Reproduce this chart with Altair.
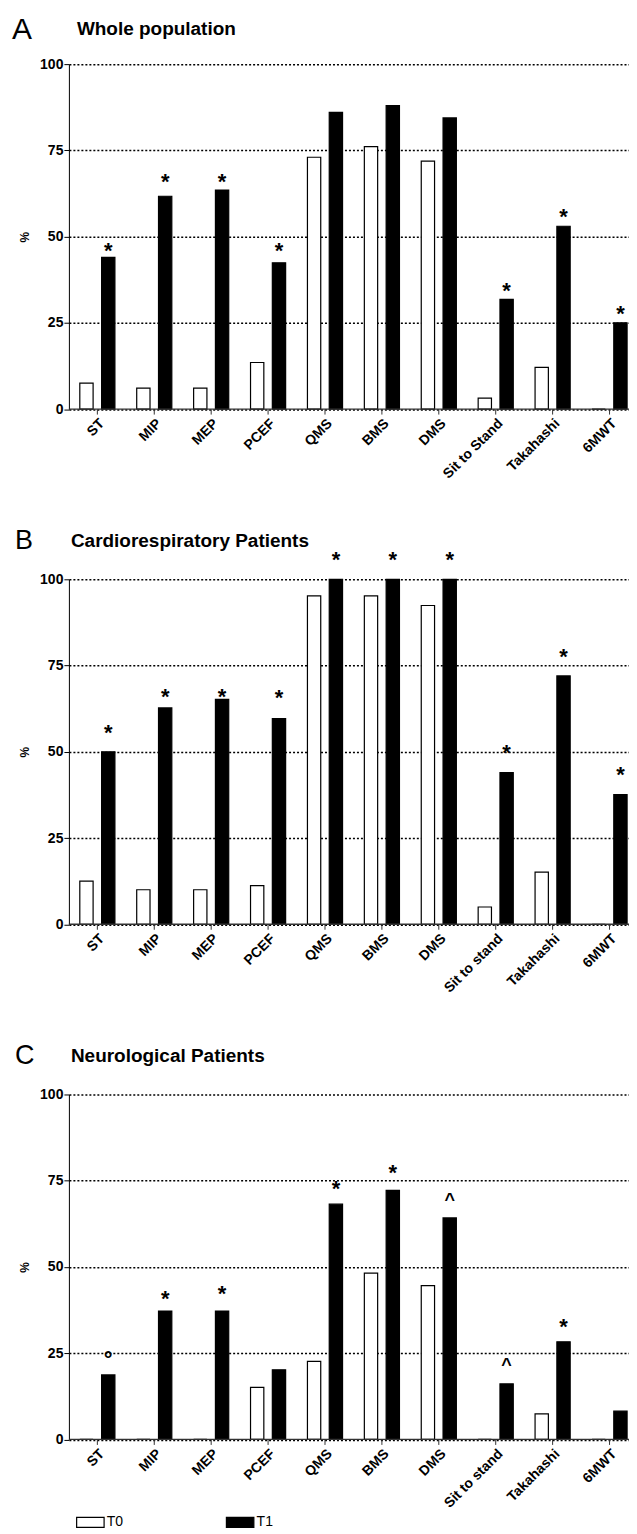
import altair as alt
import pandas as pd

FONT = "Liberation Sans"

# ---------------- data ----------------
categories_A = ["ST", "MIP", "MEP", "PCEF", "QMS", "BMS", "DMS", "Sit to Stand", "Takahashi", "6MWT"]
categories_BC = ["ST", "MIP", "MEP", "PCEF", "QMS", "BMS", "DMS", "Sit to stand", "Takahashi", "6MWT"]
series = ["T0", "T1"]

A_T0 = [7.5, 6.1, 6.1, 13.5, 73.0, 76.1, 71.9, 3.2, 12.1, 0.0]
A_T1 = [44.0, 61.7, 63.5, 42.4, 86.0, 88.0, 84.4, 31.8, 53.0, 25.0]
A_marks = ["*", "*", "*", "*", "", "", "", "*", "*", "*"]
A_mark_y = [47.5, 67.5, 67.5, 47.5, 0, 0, 0, 36.0, 57.3, 29.3]

B_T0 = [12.5, 10.0, 10.0, 11.2, 95.2, 95.2, 92.4, 5.0, 15.1, 0.0]
B_T1 = [50.0, 62.7, 65.2, 59.6, 100.0, 100.0, 100.0, 44.0, 72.0, 37.6]
B_marks = ["*", "*", "*", "*", "*", "*", "*", "*", "*", "*"]
B_mark_y = [57.1, 67.5, 67.5, 67.3, 107.3, 107.3, 107.3, 51.4, 79.3, 45.1]

C_T0 = [0.0, 0.0, 0.0, 15.1, 22.6, 48.2, 44.6, 0.0, 7.4, 0.0]
C_T1 = [18.7, 37.2, 37.2, 20.2, 68.2, 72.2, 64.2, 16.1, 28.3, 8.2]
C_marks = ["°", "*", "*", "", "*", "*", "^", "^", "*", ""]
C_mark_y = [24.9, 42.3, 43.9, 0, 74.3, 79.0, 70.8, 23.1, 34.3, 0]

BOX = "M-1,-0.36L1,-0.36L1,0.36L-1,0.36Z"

LEGEND = alt.Legend(
    title=None, orient="none", legendX=7, legendY=1446, direction="horizontal",
    symbolType=BOX, symbolSize=756, symbolStrokeColor="black", symbolStrokeWidth=1.2,
    labelFont=FONT, labelFontSize=14, labelColor="black", labelOffset=2,
    columnPadding=100, padding=0,
)

W, H = 570, 345.5


def panel(letter, title, cats, t0, t1, marks, mark_y, letter_xy, letter_size, title_xy):
    n = len(cats)
    bars = pd.DataFrame({"cat": cats + cats, "series": ["T0"] * n + ["T1"] * n, "value": t0 + t1})
    ann = pd.DataFrame({"cat": cats, "series": ["T1"] * n, "mark": marks, "my": mark_y})
    ann = ann[ann["mark"] != ""]

    xaxis = alt.Axis(
        title=None, labelAngle=-45, domain=False, grid=False, ticks=True, tickSize=5,
        tickColor="#333", tickWidth=1, labelFont=FONT, labelFontSize=14,
        labelFontWeight="bold", labelColor="black", labelPadding=2, labelLimit=300,
        labelOverlap=False,
    )
    xenc = alt.X("cat:N", sort=cats, title=None,
                 scale=alt.Scale(paddingInner=0, paddingOuter=0), axis=xaxis)
    xoff = alt.XOffset("series:N", scale=alt.Scale(domain=series, paddingInner=0.39, paddingOuter=0.5))
    yscale = alt.Scale(domain=[0, 100], nice=False)
    yaxis = alt.Axis(
        title="%", values=[0, 25, 50, 75, 100], domain=True, domainColor="black", domainWidth=1,
        ticks=True, tickSize=5, tickColor="black", tickWidth=1, labelFont=FONT,
        labelFontSize=14, labelFontWeight="bold", labelColor="black", labelPadding=1,
        labelFlush=False, grid=True, gridColor="black", gridDash=[2, 2], gridWidth=1.5,
        titleFont=FONT, titleFontSize=12, titleFontWeight="bold", titleColor="black",
        titlePadding=8,
    )

    bar_layer = alt.Chart(bars).mark_bar(stroke="black", strokeWidth=1.2).encode(
        x=xenc, xOffset=xoff,
        y=alt.Y("value:Q", scale=yscale, axis=yaxis),
        fill=alt.Fill("series:N", scale=alt.Scale(domain=series, range=["white", "black"]), legend=LEGEND),
    )
    base_rule = alt.Chart(pd.DataFrame({"v": [0]})).mark_rule(color="#333", strokeWidth=1.3).encode(
        y=alt.Y("v:Q", scale=yscale, axis=yaxis)
    )
    ann_layer = alt.Chart(ann).mark_text(
        font=FONT, fontWeight="bold", baseline="middle", dy=6, color="black"
    ).encode(
        x=xenc, xOffset=xoff,
        y=alt.Y("my:Q", scale=yscale, axis=yaxis),
        text="mark:N",
        size=alt.condition("datum.mark === '^'", alt.value(18), alt.value(22)),
    )
    letter_layer = alt.Chart(pd.DataFrame({"t": [letter]})).mark_text(
        align="left", baseline="alphabetic", font=FONT, fontSize=letter_size, color="black"
    ).encode(x=alt.value(letter_xy[0]), y=alt.value(letter_xy[1]), text="t:N")
    title_layer = alt.Chart(pd.DataFrame({"t": [title]})).mark_text(
        align="left", baseline="alphabetic", font=FONT, fontSize=19, fontWeight="bold", color="black"
    ).encode(x=alt.value(title_xy[0]), y=alt.value(title_xy[1]), text="t:N")

    return alt.layer(bar_layer, base_rule, ann_layer, letter_layer, title_layer).properties(width=W, height=H)


pA = panel("A", "Whole population", categories_A, A_T0, A_T1, A_marks, A_mark_y, (-57, -24.7), 30, (8, -29.4))
pB = panel("B", "Cardiorespiratory Patients", categories_BC, B_T0, B_T1, B_marks, B_mark_y, (-54, -30), 27, (2, -32))
pC = panel("C", "Neurological Patients", categories_BC, C_T0, C_T1, C_marks, C_mark_y, (-54, -31), 27, (2, -33))

# the reference is cut off at its right edge: a negative right padding crops the
# svg (grid lines) to the page width the same way
chart = (
    alt.vconcat(pA, pB, pC, spacing=170, bounds="flush")
    .resolve_scale(xOffset="independent")
    .properties(padding={"left": 4, "top": 6, "right": -10, "bottom": 0})
    .configure_view(stroke=None)
)

chart.save("out.html", embed_options={"renderer": "svg", "actions": False})
